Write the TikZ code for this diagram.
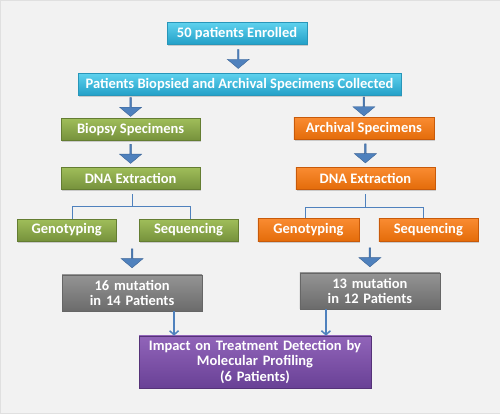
\documentclass[tikz,border=0pt]{standalone}
\usepackage{fontspec}
\setmainfont{Carlito}
\usetikzlibrary{shapes.arrows,shadows,calc,arrows.meta}
\definecolor{bgcol}{HTML}{F2F2F2}
\definecolor{arrowblue}{HTML}{4F81BD}
\definecolor{arrowedge}{HTML}{3A6396}
\tikzstyle{box} = [rectangle, text centered, text=white, font=\fontsize{14.5}{15.5}\selectfont\bfseries, inner sep=0pt, minimum height=22pt, drop shadow={shadow xshift=1.2pt, shadow yshift=-1.5pt, opacity=0.35}]
\tikzstyle{aqua} = [box, draw={rgb,255:red,40;green,150;blue,185}, top color={rgb,255:red,95;green,210;blue,238}, bottom color={rgb,255:red,35;green,160;blue,200}]
\tikzstyle{olive} = [box, draw={rgb,255:red,100;green,125;blue,50}, top color={rgb,255:red,160;green,190;blue,90}, bottom color={rgb,255:red,118;green,146;blue,60}]
\tikzstyle{tangerine} = [box, draw={rgb,255:red,200;green,90;blue,10}, top color={rgb,255:red,250;green,140;blue,50}, bottom color={rgb,255:red,228;green,108;blue,10}]
\tikzstyle{result} = [box, draw=black!60, top color=black!42, bottom color=black!58, minimum height=36pt]
\tikzstyle{impact} = [box, draw={rgb,255:red,85;green,50;blue,120}, top color={rgb,255:red,145;green,100;blue,185}, bottom color={rgb,255:red,105;green,65;blue,150}, minimum height=52pt]
\tikzstyle{blockarrow} = [single arrow, rotate=-90, draw=arrowedge, fill=arrowblue, minimum height=19pt, minimum width=22pt, single arrow head extend=2.6pt, single arrow tip angle=100, inner sep=0pt]
\tikzstyle{bracket} = [draw=arrowblue, line width=1pt]
\tikzstyle{arrow} = [draw=arrowblue, line width=1.5pt, -{Straight Barb[length=4pt,width=9pt]}]

\begin{document}
\begin{tikzpicture}[x=1pt, y=1pt, node distance=50pt]

\draw [fill=bgcol, draw=black!12] (0,0) rectangle (500,-413);

\node (enrol) [aqua, minimum width=140pt] at (237,-33) {50 patients Enrolled};
\node (collect) [aqua, below of=enrol, xshift=2.5pt, yshift=-1pt, minimum width=323pt] {Patients Biopsied and Archival Specimens Collected};

\node (biopsy) [olive, below of=collect, xshift=-109pt, yshift=5pt, minimum width=139pt] {Biopsy Specimens};
\node (archival) [tangerine, below of=collect, xshift=124.5pt, yshift=6pt, minimum width=140pt] {Archival Specimens};

\node (dnaL) [olive, below of=biopsy, yshift=1pt, minimum width=139pt] {DNA Extraction};
\node (dnaR) [tangerine, below of=archival, xshift=1.5pt, minimum width=139pt] {DNA Extraction};

\node (genoL) [olive, below of=dnaL, xshift=-64pt, yshift=-2pt, minimum width=99pt] {Genotyping};
\node (seqL) [olive, below of=dnaL, xshift=58pt, yshift=-2pt, minimum width=99pt] {Sequencing};
\node (genoR) [tangerine, below of=dnaR, xshift=-57pt, yshift=-1.5pt, minimum width=101pt, minimum height=23pt] {Genotyping};
\node (seqR) [tangerine, below of=dnaR, xshift=63pt, yshift=-1.5pt, minimum width=99pt, minimum height=23pt] {Sequencing};

\node (mutL) [result, below of=dnaL, xshift=1.5pt, yshift=-65pt, minimum width=140pt, text width=140pt, align=center] {16 mutation\\in 14 Patients};
\node (mutR) [result, below of=dnaR, xshift=4.5pt, yshift=-63pt, minimum width=140pt, text width=140pt, align=center] {13 mutation\\in 12 Patients};

\node (treat) [impact, minimum width=232pt, text width=232pt, align=center] at (255,-362) {Impact on Treatment Detection by\\Molecular Profiling\\(6 Patients)};

% block arrows
\node (a1) [blockarrow] at ($(enrol.south)!0.5!(collect.north)$) {};
\node (a2) [blockarrow] at ($(collect.south -| biopsy)!0.5!(biopsy.north)$) {};
\node (a3) [blockarrow] at ($(collect.south -| archival)!0.5!(archival.north)$) {};
\node (a4) [blockarrow] at ($(biopsy.south)!0.5!(dnaL.north)$) {};
\node (a5) [blockarrow] at ($(archival.south -| dnaR)!0.5!(dnaR.north)$) {};
\node (a6) [blockarrow] at ($(seqL.south -| mutL)!0.5!(mutL.north)$) {};
\node (a7) [blockarrow] at ($(seqR.south -| mutR)!0.5!(mutR.north)$) {};

% brackets
\coordinate (splitL) at ([xshift=2pt, yshift=-17pt]dnaL.south);
\coordinate (splitR) at ([yshift=-18pt]dnaR.south);
\draw [bracket] ([yshift=-5pt]dnaL.south -| splitL) -- (splitL);
\draw [bracket] ([xshift=6pt]genoL.north) |- (splitL) -| ([xshift=2pt]seqL.north);
\draw [bracket] ([yshift=-5pt]dnaR.south) -- (splitR);
\draw [bracket] ([xshift=-3pt]genoR.north) |- (splitR) -| ([xshift=-5pt]seqR.north);

\draw [arrow] ([xshift=42pt]mutL.south) -- ([xshift=42pt]mutL.south |- treat.north);
\draw [arrow] ([xshift=-44pt]mutR.south) -- ([xshift=-44pt]mutR.south |- treat.north);

\end{tikzpicture}
\end{document}
